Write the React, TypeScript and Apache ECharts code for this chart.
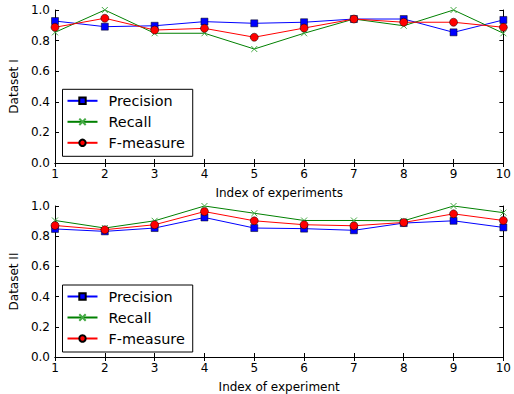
import React, { useEffect, useRef } from "react";
import * as echarts from "echarts";

const experiments = [1, 2, 3, 4, 5, 6, 7, 8, 9, 10];
const yTicks = [0, 0.2, 0.4, 0.6, 0.8, 1.0];

const precision1 = [0.928, 0.891, 0.897, 0.924, 0.913, 0.92, 0.941, 0.941, 0.854, 0.935];
const recall1 = [0.854, 1.0, 0.848, 0.848, 0.745, 0.848, 0.941, 0.897, 1.0, 0.848];
const fmeasure1 = [0.887, 0.946, 0.869, 0.88, 0.822, 0.882, 0.941, 0.92, 0.92, 0.887];

const precision2 = [0.848, 0.832, 0.854, 0.924, 0.854, 0.85, 0.839, 0.887, 0.902, 0.858];
const recall2 = [0.904, 0.854, 0.902, 1.0, 0.952, 0.904, 0.904, 0.902, 1.0, 0.956];
const fmeasure2 = [0.871, 0.843, 0.876, 0.963, 0.902, 0.876, 0.869, 0.891, 0.948, 0.904];

const seriesNames = ["Precision", "Recall", "F-measure"];
const datasetLabels = ["Dataset I", "Dataset II"];
const xTitles = ["Index of experiments", "Index of experiment"];

const FONT = "DejaVu Sans";
const X_SYMBOL = "path://M0,0L10,10M10,0L0,10";

export default function App() {
  const ref = useRef<HTMLDivElement>(null);

  useEffect(() => {
    if (!ref.current) return;
    const chart = echarts.init(ref.current, null, { renderer: "svg" });

    const grids = [
      { left: 55, right: 8.5, top: 10, height: 153 },
      { left: 55, right: 8.5, top: 206, height: 153 },
    ];

    const axisLine = { show: true, lineStyle: { color: "#000", width: 1 } };
    const tickIn = { show: true, inside: true, length: 4, lineStyle: { color: "#000", width: 1 } };

    const xAxis: any[] = [];
    const yAxis: any[] = [];
    grids.forEach((_, g) => {
      xAxis.push({
        type: "value",
        gridIndex: g,
        min: 1,
        max: 10,
        interval: 1,
        position: "bottom",
        name: xTitles[g],
        nameLocation: "middle",
        nameGap: 24,
        nameTextStyle: { fontFamily: FONT, fontSize: 12, color: "#000" },
        axisLine,
        axisTick: tickIn,
        splitLine: { show: false },
        axisLabel: { fontFamily: FONT, fontSize: 12, color: "#000", margin: 5 },
      });
      xAxis.push({
        type: "value",
        gridIndex: g,
        min: 1,
        max: 10,
        interval: 1,
        position: "top",
        axisLine,
        axisTick: tickIn,
        splitLine: { show: false },
        axisLabel: { show: false },
      });
      yAxis.push({
        type: "value",
        gridIndex: g,
        min: 0,
        max: 1,
        interval: 0.2,
        position: "left",
        name: datasetLabels[g],
        nameLocation: "middle",
        nameGap: 34,
        nameTextStyle: { fontFamily: FONT, fontSize: 12, color: "#000" },
        axisLine,
        axisTick: tickIn,
        splitLine: { show: false },
        axisLabel: {
          fontFamily: FONT,
          fontSize: 12,
          color: "#000",
          margin: 5,
          formatter: (v: number) => (yTicks.includes(Math.round(v * 10) / 10) ? v.toFixed(1) : ""),
        },
      });
      yAxis.push({
        type: "value",
        gridIndex: g,
        min: 0,
        max: 1,
        interval: 0.2,
        position: "right",
        axisLine,
        axisTick: tickIn,
        splitLine: { show: false },
        axisLabel: { show: false },
      });
    });

    const dataSets = [
      [precision1, recall1, fmeasure1],
      [precision2, recall2, fmeasure2],
    ];
    const styles = [
      { color: "#0000ff", symbol: "rect", symbolSize: 7, itemStyle: { color: "#0000ff", borderColor: "#000", borderWidth: 0.5 } },
      { color: "#008000", symbol: X_SYMBOL, symbolSize: 6, itemStyle: { color: "none", borderColor: "#44aa44", borderWidth: 1 } },
      { color: "#ff0000", symbol: "circle", symbolSize: 8, itemStyle: { color: "#ff0000", borderColor: "#000", borderWidth: 0.5 } },
    ];

    const series: any[] = [];
    dataSets.forEach((set, g) => {
      set.forEach((vals, i) => {
        series.push({
          type: "line",
          name: seriesNames[i],
          xAxisIndex: g * 2,
          yAxisIndex: g * 2,
          data: experiments.map((x, k) => [x, vals[k]]),
          symbol: styles[i].symbol,
          symbolSize: styles[i].symbolSize,
          showAllSymbol: true,
          lineStyle: { color: styles[i].color, width: 1 },
          itemStyle: styles[i].itemStyle,
          z: 2 + i,
        });
      });
    });

    const legendBase = {
      data: seriesNames,
      orient: "vertical",
      left: 62.5,
      backgroundColor: "#fff",
      borderColor: "#000",
      borderWidth: 1,
      padding: [3, 8, 5, 4],
      itemWidth: 30,
      itemHeight: 8,
      itemGap: 4,
      selectedMode: false,
      textStyle: { fontFamily: FONT, fontSize: 14.4, lineHeight: 17, color: "#000", padding: [0, 0, 0, 6] },
    };

    chart.setOption({
      animation: false,
      backgroundColor: "#fff",
      grid: grids,
      xAxis,
      yAxis,
      series,
      legend: [
        { ...legendBase, top: 89.3 },
        { ...legendBase, top: 285 },
      ],
    });

    return () => chart.dispose();
  }, []);

  return (
    <div
      ref={ref}
      style={{ position: "absolute", left: 0, top: 0, width: 514, height: 394 }}
    />
  );
}
